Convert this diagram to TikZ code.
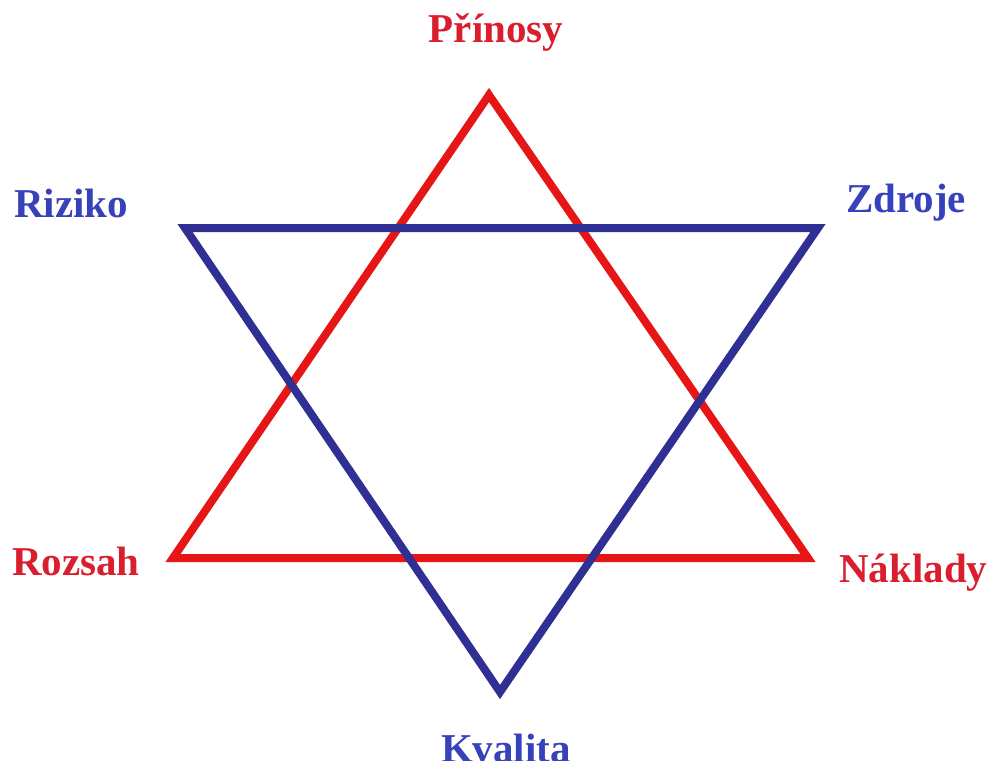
\documentclass[tikz,border=0pt]{standalone}
\usepackage{fontspec}
\setmainfont{Liberation Serif}
\definecolor{redline}{RGB}{230,22,22}
\definecolor{blueline}{RGB}{48,48,148}
\definecolor{redtext}{RGB}{218,30,45}
\definecolor{bluetext}{RGB}{55,65,185}
\begin{document}
\begin{tikzpicture}[x=1pt,y=-1pt,
  tri/.style={line width=8pt,line join=miter},
  lbl/.style={inner sep=0pt,font=\fontsize{41}{41}\selectfont\bfseries}]
\useasboundingbox[fill=white] (0,0) rectangle (992,760);
% red triangle
\coordinate (rA) at (489,95);
\coordinate (rL) at (173,558);
\coordinate (rR) at (808,558);
% blue triangle
\coordinate (bL) at (185,228);
\coordinate (bR) at (818,228);
\coordinate (bB) at (500,692);
\draw[tri,draw=redline] (rA) -- (rL) -- (rR) -- cycle;
\draw[tri,draw=blueline] (bL) -- (bR) -- (bB) -- cycle;
% labels
\node[lbl,text=redtext,anchor=base] (prinosy) at (496,43) {Přínosy};
\node[lbl,text=bluetext,anchor=base west] (riziko) at (14,217) {Riziko};
\node[lbl,text=bluetext,anchor=base west] (zdroje) at (846,212) {Zdroje};
\node[lbl,text=redtext,anchor=base west] (rozsah) at (12,575) {Rozsah};
\node[lbl,text=redtext,anchor=base west] (naklady) at (839,582) {Náklady};
\node[lbl,text=bluetext,anchor=base] (kvalita) at (506,762) {Kvalita};
\end{tikzpicture}
\end{document}
